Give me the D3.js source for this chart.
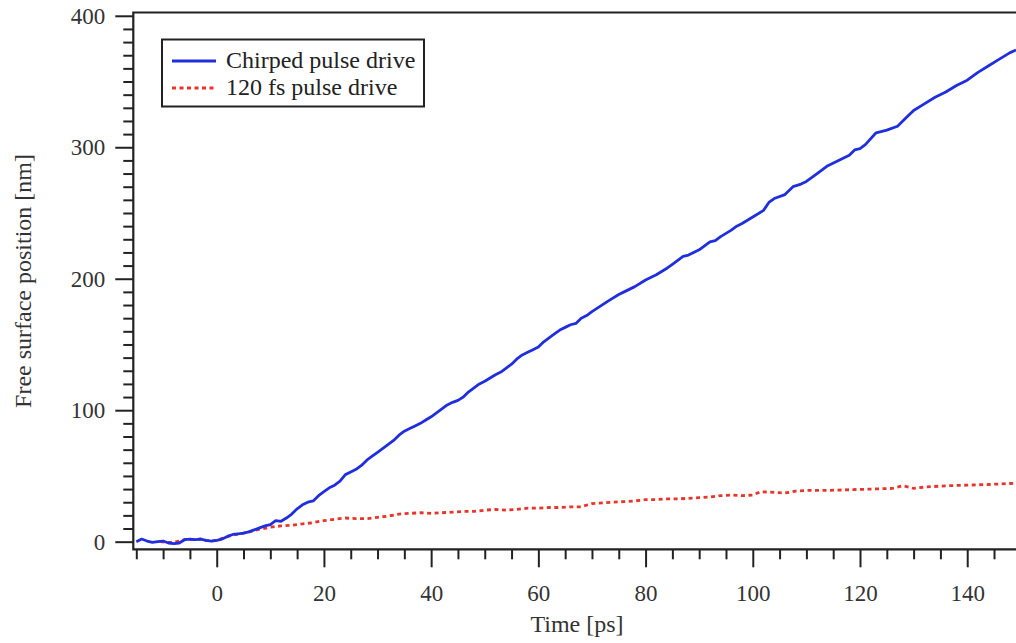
<!DOCTYPE html>
<html><head><meta charset="utf-8">
<script src="https://cdn.jsdelivr.net/npm/d3@7"></script>
<style>body{margin:0;background:#fff}svg{display:block}</style>
</head><body>
<svg id="c" width="1016" height="643"></svg>
<script>
const chirpT = [-15,-14,-13,-12,-11,-10,-9,-8,-7,-6,-5,-4,-3,-2,-1,0,1,2,3,4,5,6,7,8,9,10,11,12,13,14,15,16,17,18,19,20,21,22,23,24,25,26,27,28,29,30,31,32,33,34,35,36,37,38,39,40,41,42,43,44,45,46,47,48,49,50,52,53,54,55,56,57,58,59,60,61,62,63,64,65,66,67,68,69,70,71.5,73,75,76,78,80,82,84,85,86,87,88,90,92,93,94,96,97,98,100,102,103,104,106,107.5,109,110,112,114,116,118,119,120,121,123,125,127,128.5,130,132,134,136,138,140,142,144,146,148,149.1];
const chirpV = [0,2,0.5,-0.5,0,0.5,-1,-1.5,-1,1.5,2,1.5,2,1,0.5,1,2,4,5.5,6,6.5,7.5,9,10.5,12,13,16,15.5,18,21,25,28,30,31,35,38,41,43,46,51,53,55,58,62,65,68,71,74,77,81,84,86,88,90,92.5,95,98,101,104,106,107.5,110,114,117,120,122,127,129,132,135,139,142,144,146,148,152,155,158,161,163,165,166,170,172,175,179,183,188,190,194,199,203,208,211,214,217,218,222,228,229,232,237,240,242,247,252,258,261,264,270,272,274,280,286,290,294,298,299,302,311,313,316,322,328,333,338,342,347,351,357,362,367,372,374];
const fsT = [-10.5,-9,-8,-7,-6,-4,-3,-2,-1,0,1,3,5,6,8,10,12,14,16,18,20,22,24,26,28,30,32,34,36,38,40,42,44,46,48,50,52,54,56,58,60,62,64,66,68,70,72,74,76,78,80,82,84,86,88,90,92,94,96,98,100,101.5,104,106,108,110,114,118,122,126,128,130,132,136,140,144,149.1];
const fsV = [0,-0.5,-0.5,0.5,1.5,1.5,2,1,0.5,1,2.5,5,6.5,7.5,9.5,11,12,12.5,13.5,14.5,16,17,18,17.5,17.5,18.5,19.5,21,21.5,22,21.5,22,22.5,23,23,24,24.5,24,24.5,25.5,25.5,26,26,26.5,26.5,29,29.5,30,30.5,31,32,32,32.5,32.5,33,33.5,34,35,35.5,35,35.5,38,37.5,37,38.5,39,39,39.5,40,40.5,42.5,40.5,41.5,42.5,43,43.5,44.5];
const seriesNames = ["Chirped pulse drive","120 fs pulse drive"];
const xMajor = [0,20,40,60,80,100,120,140];
const yMajor = [0,100,200,300,400];
const xLabel = "Time [ps]";
const yLabel = "Free surface position [nm]";

const svg = d3.select("#c");
const L=133.3, R=1016, T=12.5, B=549.3;
const x = d3.scaleLinear().domain([-15.56,149.1]).range([L,R]);
const y = d3.scaleLinear().domain([-5.8,402.5]).range([B,T]);
const font = "'Liberation Serif','Times New Roman',serif";

svg.append("defs").append("clipPath").attr("id","clip")
  .append("rect").attr("x",L).attr("y",T).attr("width",R-L).attr("height",B-T);

// minor ticks
const xMinor = d3.range(-15,150,5).filter(v=>!xMajor.includes(v));
const yMinor = d3.range(0,401,10).filter(v=>!yMajor.includes(v));
svg.append("g").attr("transform",`translate(0,${B})`)
  .call(d3.axisBottom(x).tickValues(xMinor).tickSize(10).tickFormat(""))
  .call(g=>g.select(".domain").remove())
  .selectAll("line").attr("stroke","#222").attr("stroke-width",2);
svg.append("g").attr("transform",`translate(${L},0)`)
  .call(d3.axisLeft(y).tickValues(yMinor).tickSize(10).tickFormat(""))
  .call(g=>g.select(".domain").remove())
  .selectAll("line").attr("stroke","#222").attr("stroke-width",2);

// major ticks
const gx = svg.append("g").attr("transform",`translate(0,${B})`)
  .call(d3.axisBottom(x).tickValues(xMajor).tickSize(18).tickPadding(17).tickFormat(d3.format("d")));
gx.select(".domain").remove();
gx.selectAll("line").attr("stroke","#222").attr("stroke-width",2);
gx.selectAll("text").attr("font-family",font).attr("font-size",23).attr("fill","#333");

const gy = svg.append("g").attr("transform",`translate(${L},0)`)
  .call(d3.axisLeft(y).tickValues(yMajor).tickSize(18).tickPadding(10).tickFormat(d3.format("d")));
gy.select(".domain").remove();
gy.selectAll("line").attr("stroke","#222").attr("stroke-width",2);
gy.selectAll("text").attr("font-family",font).attr("font-size",23).attr("fill","#333");

// frame
svg.append("path").attr("d",`M${R},${T}H${L}V${B}H${R}`)
  .attr("fill","none").attr("stroke","#222").attr("stroke-width",2.2);

// lines
const line = d3.line().x(d=>x(d[0])).y(d=>y(d[1]));
const gl = svg.append("g").attr("clip-path","url(#clip)");
gl.append("path").datum(fsT.map((t,i)=>[t,fsV[i]]))
  .attr("d",line).attr("fill","none").attr("stroke","#e8352b").attr("stroke-width",2.8)
  .attr("stroke-dasharray","4,3.5");
gl.append("path").datum(chirpT.map((t,i)=>[t,chirpV[i]]))
  .attr("d",line).attr("fill","none").attr("stroke","#1f2fe0").attr("stroke-width",2.8)
  .attr("stroke-linejoin","round");

// legend
const lg = svg.append("g");
lg.append("rect").attr("x",162).attr("y",39.5).attr("width",262).attr("height",67)
  .attr("fill","#fff").attr("stroke","#222").attr("stroke-width",2);
const lstyles = [{c:"#1f2fe0",d:null},{c:"#e8352b",d:"4,3.5"}];
seriesNames.forEach((n,i)=>{
  const yy = 61 + i*27;
  lg.append("line").attr("x1",172).attr("x2",216).attr("y1",yy).attr("y2",yy)
    .attr("stroke",lstyles[i].c).attr("stroke-width",2.8).attr("stroke-dasharray",lstyles[i].d);
  lg.append("text").attr("x",226).attr("y",yy+7).text(n)
    .attr("font-family",font).attr("font-size",24).attr("fill","#222");
});

// axis labels
svg.append("text").attr("x",577).attr("y",632).attr("text-anchor","middle").text(xLabel)
  .attr("font-family",font).attr("font-size",24).attr("fill","#333");
svg.append("text").attr("transform","translate(31,281) rotate(-90)").attr("text-anchor","middle").text(yLabel)
  .attr("font-family",font).attr("font-size",24).attr("fill","#333");
</script>
</body></html>
